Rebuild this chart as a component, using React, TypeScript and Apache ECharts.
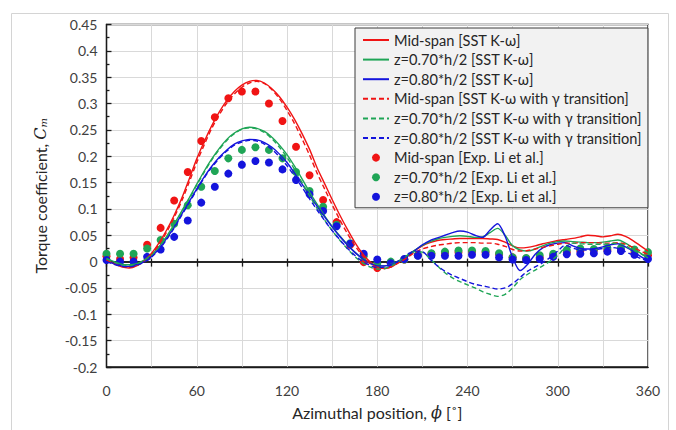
import React, { useEffect, useRef } from "react";
import * as echarts from "echarts";

// Azimuthal positions for CFD curves (degrees)
const phiLine = [
  0, 5, 10, 15, 20, 25, 30, 35, 40, 45, 50, 55, 60, 65, 70, 75, 80, 85, 90, 95,
  100, 105, 110, 115, 120, 125, 130, 135, 140, 145, 150, 155, 160, 165, 170, 175,
  180, 185, 190, 195, 200, 205, 210, 215, 220, 225, 230, 235, 240, 245, 250, 255,
  260, 265, 270, 275, 280, 285, 290, 295, 300, 305, 310, 315, 320, 325, 330, 335,
  340, 345, 350, 355, 360,
];

const midSST = [
  0.004, -0.004, -0.01, -0.012, -0.008, 0.002, 0.016, 0.036, 0.06, 0.088, 0.12, 0.157, 0.195, 0.228, 0.258, 0.284,
  0.306, 0.323, 0.335, 0.342, 0.344, 0.339, 0.328, 0.313, 0.293, 0.27, 0.243, 0.213, 0.178, 0.148, 0.118, 0.089,
  0.062, 0.037, 0.016, 0.0, -0.01, -0.013, -0.009, 0.0, 0.01, 0.021, 0.03, 0.036, 0.04, 0.042, 0.043, 0.044,
  0.044, 0.044, 0.044, 0.043, 0.042, 0.037, 0.03, 0.026, 0.027, 0.03, 0.034, 0.037, 0.04, 0.042, 0.044, 0.047,
  0.05, 0.049, 0.047, 0.049, 0.052, 0.048, 0.04, 0.03, 0.02,
];
const z70SST = [
  0.006, 0.0, -0.005, -0.006, -0.004, 0.003, 0.013, 0.029, 0.048, 0.071, 0.096, 0.121, 0.147, 0.172, 0.195, 0.215,
  0.232, 0.244, 0.252, 0.255, 0.253, 0.247, 0.236, 0.221, 0.203, 0.181, 0.157, 0.132, 0.109, 0.087, 0.067, 0.049,
  0.033, 0.018, 0.006, -0.003, -0.008, -0.008, -0.004, 0.003, 0.012, 0.022, 0.031, 0.038, 0.043, 0.046, 0.048, 0.049,
  0.048, 0.046, 0.047, 0.055, 0.063, 0.05, 0.03, 0.022, 0.02, 0.024, 0.03, 0.035, 0.038, 0.039, 0.038, 0.037,
  0.036, 0.036, 0.037, 0.039, 0.041, 0.035, 0.026, 0.016, 0.007,
];
const z80SST = [
  0.001, -0.004, -0.008, -0.009, -0.006, 0.0, 0.01, 0.025, 0.044, 0.066, 0.09, 0.114, 0.138, 0.161, 0.181, 0.198,
  0.212, 0.223, 0.229, 0.232, 0.231, 0.226, 0.217, 0.204, 0.188, 0.168, 0.147, 0.126, 0.105, 0.085, 0.066, 0.048,
  0.032, 0.018, 0.006, -0.003, -0.008, -0.008, -0.005, 0.001, 0.01, 0.021, 0.032, 0.04, 0.045, 0.05, 0.055, 0.058,
  0.056, 0.05, 0.046, 0.06, 0.072, 0.048, 0.008, -0.017, -0.005, 0.014, 0.026, 0.032, 0.035, 0.036, 0.03, 0.025,
  0.024, 0.025, 0.028, 0.032, 0.034, 0.028, 0.02, 0.01, 0.002,
];
const midGamma = [
  0.003, -0.004, -0.009, -0.011, -0.008, 0.001, 0.014, 0.033, 0.056, 0.084, 0.115, 0.151, 0.188, 0.222, 0.253, 0.279,
  0.301, 0.318, 0.331, 0.339, 0.342, 0.338, 0.326, 0.309, 0.287, 0.262, 0.233, 0.202, 0.168, 0.138, 0.108, 0.08,
  0.054, 0.031, 0.012, -0.003, -0.011, -0.013, -0.009, -0.001, 0.008, 0.017, 0.024, 0.028, 0.031, 0.033, 0.035, 0.036,
  0.036, 0.036, 0.035, 0.035, 0.033, 0.029, 0.023, 0.02, 0.021, 0.024, 0.027, 0.03, 0.033, 0.035, 0.035, 0.036,
  0.036, 0.036, 0.035, 0.035, 0.036, 0.033, 0.027, 0.02, 0.014,
];
const z70Gamma = [
  0.005, -0.001, -0.006, -0.007, -0.005, 0.002, 0.012, 0.027, 0.046, 0.069, 0.094, 0.119, 0.145, 0.17, 0.193, 0.213,
  0.23, 0.243, 0.251, 0.254, 0.252, 0.245, 0.233, 0.217, 0.198, 0.175, 0.15, 0.125, 0.101, 0.079, 0.059, 0.041,
  0.025, 0.01, -0.002, -0.01, -0.014, -0.013, -0.007, 0.002, 0.012, 0.019, 0.018, 0.006, -0.008, -0.021, -0.031, -0.038,
  -0.044, -0.05, -0.057, -0.062, -0.066, -0.062, -0.05, -0.034, -0.024, -0.016, -0.008, 0.001, 0.012, 0.027, 0.035, 0.034,
  0.033, 0.033, 0.033, 0.034, 0.035, 0.03, 0.022, 0.015, 0.008,
];
const z80Gamma = [
  0.0, -0.005, -0.009, -0.01, -0.007, -0.001, 0.009, 0.023, 0.042, 0.064, 0.088, 0.112, 0.136, 0.159, 0.179, 0.196,
  0.21, 0.221, 0.227, 0.23, 0.229, 0.223, 0.213, 0.199, 0.182, 0.162, 0.141, 0.119, 0.098, 0.078, 0.059, 0.042,
  0.026, 0.012, 0.001, -0.007, -0.011, -0.01, -0.005, 0.003, 0.014, 0.02, 0.019, 0.005, -0.008, -0.018, -0.026, -0.032,
  -0.038, -0.043, -0.046, -0.049, -0.052, -0.05, -0.042, -0.03, -0.018, -0.01, -0.002, 0.008, 0.02, 0.031, 0.026, 0.022,
  0.022, 0.023, 0.025, 0.027, 0.025, 0.019, 0.012, 0.006, 0.002,
];

// Experimental data (Li et al.), every 9 degrees
const phiExp = [
  0, 9, 18, 27, 36, 45, 54, 63, 72, 81, 90, 99, 108, 117, 126, 135, 144, 153, 162, 171, 180,
  189, 198, 207, 216, 225, 234, 243, 252, 261, 270, 279, 288, 297, 306, 315, 324, 333, 342, 351, 360,
];
const midExp = [
  0.01, 0.005, 0.008, 0.032, 0.064, 0.116, 0.17, 0.229, 0.274, 0.31, 0.323, 0.323, 0.3, 0.267, 0.218, 0.164, 0.117,
  0.075, 0.032, -0.001, -0.012, -0.003, 0.004, 0.012, 0.015, 0.017, 0.018, 0.019, 0.018, 0.014, 0.008, 0.006, 0.008,
  0.012, 0.018, 0.02, 0.022, 0.022, 0.022, 0.018, 0.012,
];
const z70Exp = [
  0.015, 0.015, 0.015, 0.025, 0.041, 0.072, 0.107, 0.142, 0.172, 0.196, 0.212, 0.217, 0.212, 0.196, 0.17, 0.134, 0.104,
  0.07, 0.035, 0.01, -0.004, 0.0, 0.004, 0.012, 0.016, 0.019, 0.021, 0.021, 0.02, 0.016, 0.008, 0.007, 0.012,
  0.015, 0.022, 0.025, 0.024, 0.026, 0.026, 0.023, 0.018,
];
const z80Exp = [
  0.003, 0.0, 0.0, 0.009, 0.023, 0.047, 0.078, 0.112, 0.142, 0.167, 0.184, 0.191, 0.188, 0.175, 0.155, 0.128, 0.096,
  0.067, 0.034, 0.015, 0.004, -0.003, 0.005, 0.011, 0.011, 0.011, 0.011, 0.013, 0.013, 0.008, 0.004, 0.003, 0.005,
  0.009, 0.014, 0.015, 0.016, 0.019, 0.02, 0.013, 0.005,
];

const names = [
  "Mid-span [SST K-ω]",
  "z=0.70*h/2 [SST K-ω]",
  "z=0.80*h/2 [SST K-ω]",
  "Mid-span [SST K-ω with γ transition]",
  "z=0.70*h/2 [SST K-ω with γ transition]",
  "z=0.80*h/2 [SST K-ω with γ transition]",
  "Mid-span [Exp. Li et al.]",
  "z=0.70*h/2 [Exp. Li et al.]",
  "z=0.80*h/2 [Exp. Li et al.]",
];

const RED = "#f01414";
const GREEN = "#1fa556";
const BLUE = "#1414dc";

const FONT = "Lato";

export default function App() {
  const ref = useRef<HTMLDivElement>(null);
  useEffect(() => {
    if (!ref.current) return;
    const chart = echarts.init(ref.current, null, { renderer: "svg" });
    const pair = (xs: number[], ys: number[]) => xs.map((x, i) => [x, ys[i]]);
    const lineSeries = (name: string, ys: number[], color: string, dashed: boolean) => ({
      type: "line",
      name,
      data: pair(phiLine, ys),
      symbol: "none",
      smooth: 0.3,
      xAxisIndex: 0,
      yAxisIndex: 0,
      lineStyle: { color, width: 1.4, type: dashed ? [5, 3] : "solid" },
      itemStyle: { color },
    });
    const dotSeries = (name: string, ys: number[], color: string) => ({
      type: "scatter",
      name,
      data: pair(phiExp, ys),
      symbol: "circle",
      symbolSize: 8,
      xAxisIndex: 0,
      yAxisIndex: 0,
      itemStyle: { color, opacity: 1 },
    });
    const labelStyle = { fontFamily: FONT, fontSize: 14, color: "#404040" };
    const tickLine = { color: "#1a1a1a", width: 1.3 };
    chart.setOption({
      animation: false,
      backgroundColor: "#ffffff",
      textStyle: { fontFamily: FONT },
      graphic: [
        {
          type: "rect",
          silent: true,
          z: -10,
          shape: { x: 11.5, y: 13.5, width: 657, height: 440 },
          style: { fill: "none", stroke: "#d4d4d4", lineWidth: 1 },
        },
      ],
      grid: {
        left: 106.5,
        right: 28,
        top: 24.5,
        bottom: 63,
        show: true,
        borderColor: "#1a1a1a",
        borderWidth: 1.3,
      },
      legend: {
        orient: "vertical",
        left: 355,
        top: 28,
        backgroundColor: "#f2f2f2",
        borderColor: "#3a3a3a",
        borderWidth: 1,
        borderRadius: 0,
        padding: [4, 6, 3, 7],
        itemGap: 3.6,
        itemWidth: 26,
        itemHeight: 8,
        textStyle: { fontFamily: FONT, fontSize: 14.6, color: "#262626", lineHeight: 16 },
        data: names.map((n, i) => (i < 6 ? { name: n, itemStyle: { opacity: 0 } } : { name: n })),
      },
      xAxis: [
        {
          type: "value",
          min: 0,
          max: 360,
          interval: 60,
          position: "bottom",
          axisLine: { onZero: false, lineStyle: tickLine },
          axisTick: { show: false },
          axisLabel: { ...labelStyle, margin: 16 },
          splitLine: { show: true, lineStyle: { color: "#d9d9d9", width: 1 } },
          minorTick: { show: false, splitNumber: 2 },
          minorSplitLine: { show: true, lineStyle: { color: "#d9d9d9", width: 1 } },
          name: "Azimuthal position, {i|ϕ} [˚]",
          nameLocation: "middle",
          nameGap: 37,
          nameTextStyle: {
            fontFamily: FONT,
            fontSize: 16,
            color: "#262626",
            rich: { i: { fontFamily: "DejaVu Serif", fontStyle: "italic", fontSize: 16, color: "#262626" } },
          },
        },
        {
          type: "value",
          min: 0,
          max: 360,
          interval: 30,
          position: "bottom",
          axisLine: { show: true, onZero: true, onZeroAxisIndex: 0, lineStyle: { color: "#1a1a1a", width: 1.6 } },
          axisTick: { show: true, inside: false, length: 5, lineStyle: tickLine },
          axisLabel: { show: false },
          splitLine: { show: false },
        },
        {
          type: "value",
          min: 0,
          max: 360,
          interval: 30,
          position: "bottom",
          axisLine: { show: true, onZero: true, onZeroAxisIndex: 0, lineStyle: { color: "#1a1a1a", width: 1.6 } },
          axisTick: { show: true, inside: true, length: 3, lineStyle: tickLine },
          axisLabel: { show: false },
          splitLine: { show: false },
        },
      ],
      yAxis: {
        type: "value",
        min: -0.2,
        max: 0.45,
        interval: 0.05,
        axisLine: { show: true, onZero: false, lineStyle: tickLine },
        axisTick: { show: true, inside: true, length: 5, lineStyle: tickLine },
        minorTick: { show: true, splitNumber: 2, length: 3, lineStyle: tickLine },
        axisLabel: {
          ...labelStyle,
          margin: 9,
          formatter: (v: number) => (Math.abs(v) < 1e-9 ? "0" : String(+v.toFixed(2))),
        },
        splitLine: { show: true, lineStyle: { color: "#d9d9d9", width: 1 } },
        name: "Torque coefficient, {i|C}{sub|m}",
        nameLocation: "middle",
        nameGap: 58,
        nameTextStyle: {
          fontFamily: FONT,
          fontSize: 16,
          color: "#262626",
          rich: {
            i: { fontFamily: "DejaVu Serif", fontStyle: "italic", fontSize: 16, color: "#262626" },
            sub: { fontFamily: "DejaVu Serif", fontStyle: "italic", fontSize: 10, color: "#262626", verticalAlign: "bottom", padding: [7, 0, 0, 0] },
          },
        },
      },
      series: [
        lineSeries(names[0], midSST, RED, false),
        lineSeries(names[1], z70SST, GREEN, false),
        lineSeries(names[2], z80SST, BLUE, false),
        lineSeries(names[3], midGamma, RED, true),
        lineSeries(names[4], z70Gamma, GREEN, true),
        lineSeries(names[5], z80Gamma, BLUE, true),
        dotSeries(names[6], midExp, RED),
        dotSeries(names[7], z70Exp, GREEN),
        dotSeries(names[8], z80Exp, BLUE),
      ],
    });
    return () => chart.dispose();
  }, []);
  return (
    <div
      ref={ref}
      style={{ position: "fixed", left: 0, top: 0, width: 676, height: 430, background: "#fff" }}
    />
  );
}
